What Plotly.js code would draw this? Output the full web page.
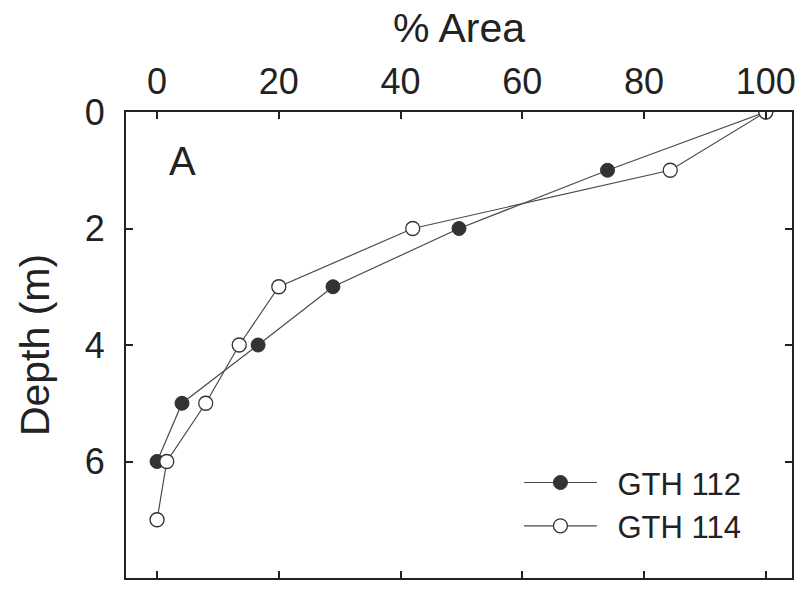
<!DOCTYPE html>
<html>
<head>
<meta charset="utf-8">
<script src="https://cdn.plot.ly/plotly-3.0.1.min.js"></script>
<style>html,body{margin:0;padding:0;background:#fff;}#chart{width:798px;height:592px;}</style>
</head>
<body>
<div id="chart"></div>
<script>
const depth112 = [0, 1, 2, 3, 4, 5, 6];
const area112 = [100, 74, 49.6, 28.9, 16.6, 4.1, 0];
const depth114 = [0, 1, 2, 3, 4, 5, 6, 7];
const area114 = [100, 84.3, 42, 20, 13.5, 8, 1.6, 0];
const xTicks = [0, 20, 40, 60, 80, 100];
const yTicks = [0, 2, 4, 6, 8];
const seriesNames = ['GTH 112', 'GTH 114'];

const FONT = 'Liberation Sans, Arial, Helvetica, sans-serif';
const traces = [
  {
    x: area112, y: depth112, name: '\u2002' + seriesNames[0], type: 'scatter', mode: 'lines+markers',
    line: {color: '#4a4a4a', width: 1.2},
    marker: {color: '#333333', size: 14, line: {color: '#333333', width: 1}}
  },
  {
    x: area114, y: depth114, name: '\u2002' + seriesNames[1], type: 'scatter', mode: 'lines+markers',
    line: {color: '#4a4a4a', width: 1.2},
    marker: {color: '#ffffff', size: 14, line: {color: '#333333', width: 1.3}}
  }
];
const axisCommon = {
  showgrid: false, zeroline: false, showline: true, linecolor: '#222', linewidth: 2,
  mirror: 'ticks', ticks: 'inside', ticklen: 7, tickwidth: 2, tickcolor: '#222',
  tickfont: {family: FONT, size: 36, color: '#222'}
};
const layout = {
  width: 798, height: 592,
  margin: {l: 126, r: 6, t: 112, b: 14},
  paper_bgcolor: '#fff', plot_bgcolor: '#fff',
  font: {family: FONT, color: '#222'},
  showlegend: true,
  legend: {
    x: 0.59, y: 0.158, xanchor: 'left', yanchor: 'middle',
    bgcolor: 'rgba(0,0,0,0)', borderwidth: 0,
    font: {family: FONT, size: 31, color: '#222'},
    itemwidth: 73, itemsizing: 'trace', tracegroupgap: 0
  },
  xaxis: Object.assign({}, axisCommon, {
    side: 'top', range: [-5.1, 104.3], tickvals: xTicks, ticktext: xTicks.map(String),
    ticklabelstandoff: 2,
    title: {text: '% Area', font: {family: FONT, size: 41, color: '#222'}, standoff: 5}
  }),
  yaxis: Object.assign({}, axisCommon, {
    range: [8, 0], tickvals: yTicks, ticktext: yTicks.map(String),
    ticklabelstandoff: 12,
    title: {text: 'Depth (m)', font: {family: FONT, size: 41, color: '#222'}, standoff: 22}
  }),
  annotations: [{
    text: 'A', xref: 'paper', yref: 'paper', x: 0.085, y: 0.895,
    xanchor: 'center', yanchor: 'middle', showarrow: false,
    font: {family: FONT, size: 40, color: '#222'}
  }]
};
Plotly.newPlot('chart', traces, layout, {displayModeBar: false, staticPlot: true});
</script>
</body>
</html>
